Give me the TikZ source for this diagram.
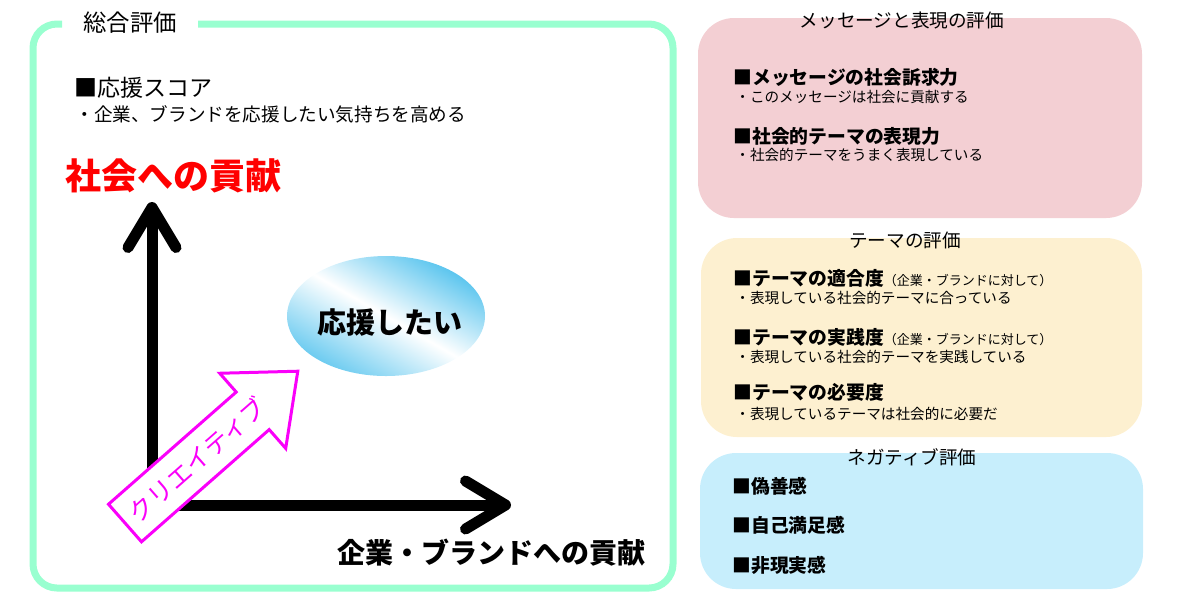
\documentclass[tikz,border=0pt]{standalone}
\usepackage{fontspec}
\setmainfont{Noto Sans CJK JP}
\usetikzlibrary{arrows.meta,shapes.geometric}
\definecolor{mint}{RGB}{153,255,208}
\definecolor{pinkbg}{RGB}{243,207,211}
\definecolor{creambg}{RGB}{253,240,208}
\definecolor{skybg}{RGB}{199,238,252}
\definecolor{balloon}{RGB}{88,196,238}
\definecolor{crimson}{RGB}{255,0,0}
\definecolor{vivid}{RGB}{250,0,250}
\newcommand\parensize{\fontsize{6.5}{8}\mdseries\selectfont}

\begin{document}
\begin{tikzpicture}[
        x=0.5pt, y=-0.5pt,
        panel/.style={rounded corners=18pt, inner sep=0pt},
        ptitle/.style={inner sep=0pt, font=\fontsize{9.3}{11}\selectfont},
        item/.style={anchor=west, inner sep=0pt, font=\fontsize{9.4}{11}\selectfont\bfseries},
        sub/.style={anchor=west, inner sep=0pt, font=\fontsize{7.3}{8}\selectfont},
        big/.style={anchor=west, inner sep=0pt, font=\fontsize{14}{16}\selectfont\bfseries},
        axis/.style={line width=5.5pt, -{Straight Barb[round, length=20pt, width=24pt]}}
      ]
      \useasboundingbox (0,0) rectangle (1181,602);

      \node[panel, fill=pinkbg, minimum width=222pt, minimum height=100pt] (msgbox) at (920,118) {};
      \node[panel, fill=creambg, minimum width=220.5pt, minimum height=99.5pt] (themebox) at (921.5,337.5) {};
      \node[panel, fill=skybg, minimum width=221.5pt, minimum height=68pt] (negbox) at (921.5,521) {};

      \node[ptitle] (msgtitle) at (902,20) {メッセージと表現の評価};
      \node[item] (msg1) at (733,77) {■メッセージの社会訴求力};
      \node[sub] (msg1s) at (735,97) {・このメッセージは社会に貢献する};
      \node[item] (msg2) at (733,136) {■社会的テーマの表現力};
      \node[sub] (msg2s) at (735,155) {・社会的テーマをうまく表現している};

      \node[ptitle] (themetitle) at (905,240) {テーマの評価};
      \node[item] (theme1) at (733,278) {■テーマの適合度{\parensize （企業・ブランドに対して）}};
      \node[sub] (theme1s) at (735,298) {・表現している社会的テーマに合っている};
      \node[item] (theme2) at (733,337) {■テーマの実践度{\parensize （企業・ブランドに対して）}};
      \node[sub] (theme2s) at (735,357) {・表現している社会的テーマを実践している};
      \node[item] (theme3) at (733,392) {■テーマの必要度};
      \node[sub] (theme3s) at (735,414) {・表現しているテーマは社会的に必要だ};

      \node[ptitle] (negtitle) at (912,457) {ネガティブ評価};
      \node[item] (neg1) at (732,486) {■偽善感};
      \node[item] (neg2) at (732,525) {■自己満足感};
      \node[item] (neg3) at (732,565) {■非現実感};

      \draw[mint, line width=3.5pt, rounded corners=12pt] (198,24) -- (673,24) -- (673,588) -- (33,588) -- (33,24) -- (62,24);
      \node[inner sep=0pt, font=\fontsize{11.7}{13}\selectfont] (overall) at (130,23) {総合評価};

      \node[anchor=west, inner sep=0pt, font=\fontsize{11.5}{13}\selectfont] (score) at (74,88) {■応援スコア};
      \node[anchor=west, inner sep=0pt, font=\fontsize{9.3}{11}\selectfont] (scoresub) at (75,114) {・企業、ブランドを応援したい気持ちを高める};
      \node[big, text=crimson, font=\fontsize{18}{20}\selectfont\bfseries] (social) at (65,176) {社会への貢献};

      \coordinate (origin) at (152,505);
      \coordinate (ytip) at (152,202);
      \coordinate (xtip) at (511,505);
      \draw[axis] (origin) -- (ytip);
      \draw[axis] (origin) -- (xtip);

      \node[ellipse, minimum width=99pt, minimum height=60pt, inner sep=0pt,
        left color=balloon, right color=balloon!90, middle color=white, shading angle=-30] (cheer) at (386,316) {};
      \node[inner sep=0pt, font=\fontsize{14.5}{16}\selectfont\bfseries] (cheertext) at (390,322) {応援したい};

      \begin{scope}[shift={(125,523)}, rotate=41.3]
        \draw[vivid, fill=white, line width=1.5pt] (0,-25) -- (170,-25) -- (170,-50) -- (230,0) -- (170,50) -- (170,25) -- (0,25) -- cycle;
        \node[transform shape, text=vivid, inner sep=0pt, font=\fontsize{12.5}{14}\selectfont] (creative) at (96,0) {クリエイティブ};
      \end{scope}

      \node[big] (corp) at (337,553) {企業・ブランドへの貢献};
    \end{tikzpicture}
\end{document}
